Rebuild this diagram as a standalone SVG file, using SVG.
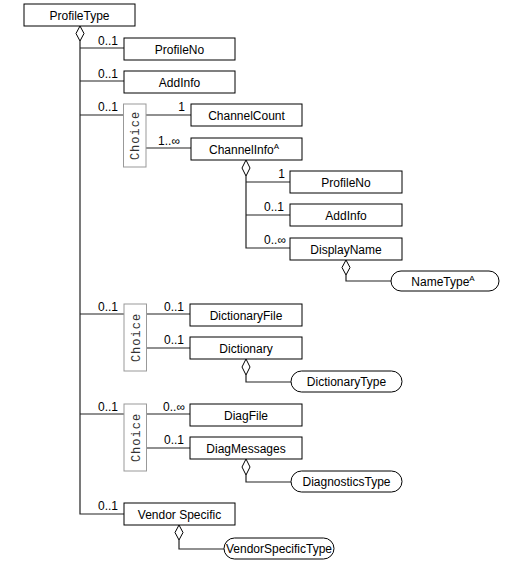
<svg xmlns="http://www.w3.org/2000/svg" width="523" height="566" viewBox="0 0 523 566">
<style>
.box{fill:#fff;stroke:#000;stroke-width:1}
.ref{fill:#fff;stroke:#000;stroke-width:1}
.ch{fill:#fff;stroke:#999;stroke-width:1}
.t{font-family:"Liberation Sans",Arial,sans-serif;font-size:12px;fill:#000;text-anchor:middle}
.m{font-family:"Liberation Sans",Arial,sans-serif;font-size:12px;fill:#000;text-anchor:end}
.c{font-family:"Liberation Mono","Courier New",monospace;font-size:12px;fill:#333;text-anchor:middle;letter-spacing:1px}
.ln{fill:none;stroke:#222;stroke-width:1.2}
.dm{fill:#fff;stroke:#000;stroke-width:1}
</style>
<rect width="523" height="566" fill="#fff"/>
<g id="connectors">
<path class="ln" d="M80,41 V514 H124"/>
<path class="ln" d="M80,48 H124 M80,81 H124 M80,115 H123.5 M146,115 H191 M146,148 H191"/>
<path class="ln" d="M246,176 V248 H290 M246,182 H290 M246,215 H290"/>
<path class="ln" d="M346,275 V281 H391"/>
<path class="ln" d="M80,314 H124 M146,314 H190 M146,348 H190"/>
<path class="ln" d="M246,375 V382 H291"/>
<path class="ln" d="M80,414 H124 M146,414 H190 M146,448 H190"/>
<path class="ln" d="M246,475 V482 H291"/>
<path class="ln" d="M179,540 V549 H224"/>
<path class="dm" d="M80,26 L84,33.5 L80,41 L76,33.5 Z"/>
<path class="dm" d="M246,160 L250,168 L246,176 L242,168 Z"/>
<path class="dm" d="M346,260 L350,267.5 L346,275 L342,267.5 Z"/>
<path class="dm" d="M246,359 L250,367 L246,375 L242,367 Z"/>
<path class="dm" d="M246,459 L250,467 L246,475 L242,467 Z"/>
<path class="dm" d="M179,525 L183,532.5 L179,540 L175,532.5 Z"/>
<text class="m" x="118" y="45">0..1</text>
<text class="m" x="118" y="78">0..1</text>
<text class="m" x="118" y="111">0..1</text>
<text class="m" x="185" y="111">1</text>
<text class="m" x="180" y="145">1..∞</text>
<text class="m" x="285" y="178">1</text>
<text class="m" x="284" y="211">0..1</text>
<text class="m" x="286" y="244">0..∞</text>
<text class="m" x="118" y="311">0..1</text>
<text class="m" x="184" y="311">0..1</text>
<text class="m" x="184" y="344">0..1</text>
<text class="m" x="118" y="411">0..1</text>
<text class="m" x="185" y="411">0..∞</text>
<text class="m" x="184" y="444">0..1</text>
<text class="m" x="118" y="510">0..1</text>
</g>
<g id="ProfileType"><rect class="box" x="24" y="4" width="111" height="22"/><text class="t" x="79.5" y="19.5">ProfileType</text></g>
<g id="ProfileNo"><rect class="box" x="124" y="38" width="111" height="22"/><text class="t" x="179.5" y="53.5">ProfileNo</text></g>
<g id="AddInfo"><rect class="box" x="124" y="71" width="111" height="22"/><text class="t" x="179.5" y="86.5">AddInfo</text></g>
<g id="Choice1"><rect class="ch" x="123.5" y="104" width="22.5" height="63"/><text class="c" transform="translate(139,135.5) rotate(-90)">Choice</text></g>
<g id="ChannelCount"><rect class="box" x="191" y="104" width="111" height="22"/><text class="t" x="246.5" y="119.5">ChannelCount</text></g>
<g id="ChannelInfo"><rect class="box" x="191" y="138" width="111" height="22"/><text class="t" x="244" y="153.5">ChannelInfo<tspan font-size="8" dy="-5">A</tspan></text></g>
<g id="ProfileNo2"><rect class="box" x="290" y="171" width="112" height="22"/><text class="t" x="346" y="186.5">ProfileNo</text></g>
<g id="AddInfo2"><rect class="box" x="290" y="204" width="112" height="22"/><text class="t" x="346" y="219.5">AddInfo</text></g>
<g id="DisplayName"><rect class="box" x="290" y="238" width="112" height="22"/><text class="t" x="346" y="253.5">DisplayName</text></g>
<g id="NameType"><rect class="ref" x="391" y="271" width="108" height="20" rx="10"/><text class="t" x="443" y="285.5">NameType<tspan font-size="8" dy="-5">A</tspan></text></g>
<g id="Choice2"><rect class="ch" x="124" y="304" width="22.5" height="67"/><text class="c" transform="translate(139.5,337.5) rotate(-90)">Choice</text></g>
<g id="DictionaryFile"><rect class="box" x="190" y="304" width="112" height="22"/><text class="t" x="246" y="319.5">DictionaryFile</text></g>
<g id="Dictionary"><rect class="box" x="190" y="337" width="112" height="22"/><text class="t" x="246" y="352.5">Dictionary</text></g>
<g id="DictionaryType"><rect class="ref" x="291" y="371" width="111" height="21" rx="10.5"/><text class="t" x="346.5" y="385.5">DictionaryType</text></g>
<g id="Choice3"><rect class="ch" x="124" y="404" width="22.5" height="67"/><text class="c" transform="translate(139.5,437.5) rotate(-90)">Choice</text></g>
<g id="DiagFile"><rect class="box" x="190" y="404" width="112" height="22"/><text class="t" x="246" y="419.5">DiagFile</text></g>
<g id="DiagMessages"><rect class="box" x="190" y="437" width="112" height="22"/><text class="t" x="246" y="452.5">DiagMessages</text></g>
<g id="DiagnosticsType"><rect class="ref" x="291" y="471" width="111" height="21" rx="10.5"/><text class="t" x="346.5" y="485.5">DiagnosticsType</text></g>
<g id="VendorSpecific"><rect class="box" x="124" y="503" width="111" height="22"/><text class="t" x="179.5" y="518.5">Vendor Specific</text></g>
<g id="VendorSpecificType"><rect class="ref" x="224" y="538" width="110" height="21" rx="10.5"/><text class="t" x="279" y="552.5" font-size="10.5">VendorSpecificType</text></g>
</svg>
